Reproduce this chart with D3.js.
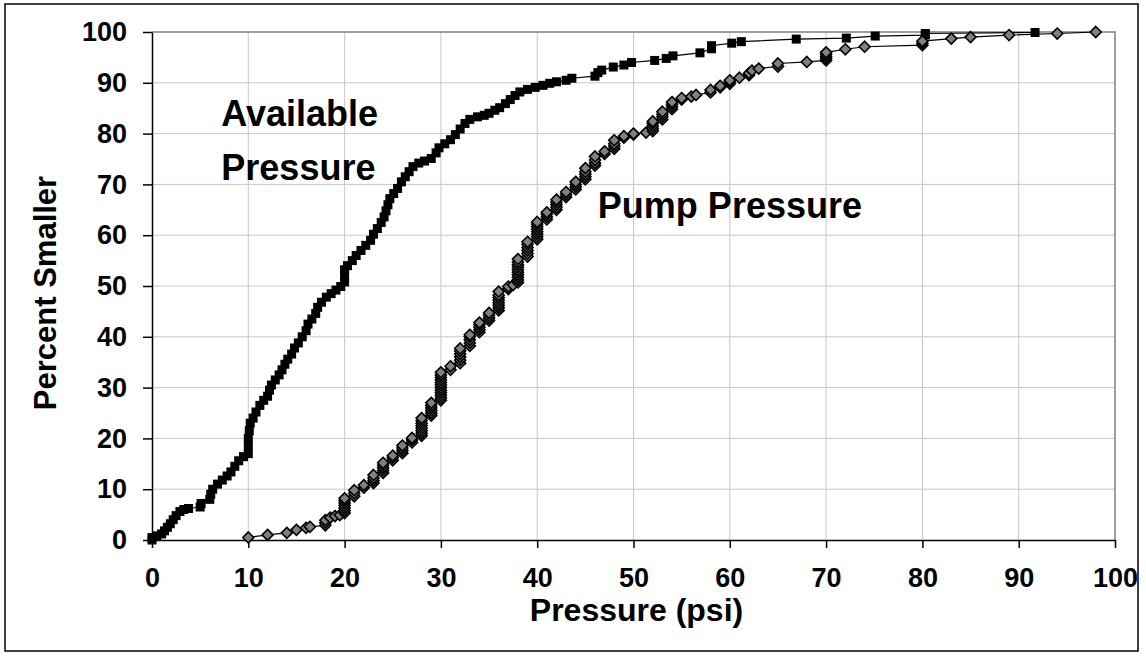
<!DOCTYPE html>
<html>
<head>
<meta charset="utf-8">
<script src="https://cdn.jsdelivr.net/npm/d3@7"></script>
<style>
  html, body { margin: 0; padding: 0; background: #ffffff; }
  svg { display: block; }
</style>
</head>
<body>
<svg id="chart" width="1146" height="660"></svg>
<script>
// ---------- DATA ----------
const xTicks = [0, 10, 20, 30, 40, 50, 60, 70, 80, 90, 100];
const yTicks = [0, 10, 20, 30, 40, 50, 60, 70, 80, 90, 100];

// Available Pressure (psi, percent smaller)
const availablePressure = [
  [0,0],[0,0.5],[0.5,0.8],[1,1.2],[1.3,1.8],[1.6,2.5],[1.9,3.2],[2.2,4],[2.5,4.8],[2.9,5.6],
  [3.3,6],[3.8,6.2],[5,6.5],[5.1,7.2],[6,8],[6.1,9],[6.3,10],[6.8,11],[7.3,11.8],[7.8,12.6],
  [8.2,13.4],[8.6,14.5],[9,15.6],[9.5,16.4],[10,17],[10,18.5],[10,20],[10.1,21.5],[10.2,23],[10.5,24],
  [10.8,25.2],[11.2,26.5],[11.6,27.5],[12,28.3],[12.2,29.5],[12.4,30.5],[12.8,31.5],[13.2,32.5],[13.5,33.5],[13.8,34.6],
  [14.1,35.6],[14.5,36.6],[14.8,37.8],[15.2,38.8],[15.6,40],[16,41.2],[16.2,42.5],[16.6,43.5],[17,44.6],[17.2,45.8],
  [17.6,46.8],[18.1,47.8],[18.6,48.5],[19.1,49.2],[19.6,49.9],[20,50.8],[20,52],[20,53.2],[20.3,54],[20.8,55],
  [21.2,56],[21.7,57],[22.2,58],[22.7,59],[23,60.2],[23.4,61.3],[23.8,62.5],[24.1,63.6],[24.3,64.8],[24.5,66],
  [24.7,67.2],[25.1,68.2],[25.5,69.2],[25.9,70.5],[26.3,71.5],[26.7,72.5],[27.1,73.5],[27.7,74.2],[28.3,74.6],[29,75.1],
  [29.5,76.2],[29.8,77.2],[30.4,78],[31,78.8],[31.5,79.8],[32,80.9],[32.5,82],[33,82.8],[33.8,83.3],[34.5,83.6],
  [35,84],[35.6,84.6],[36.1,85.1],[36.7,85.9],[37.2,86.7],[37.7,87.5],[38.2,88.2],[39,88.7],[39.8,89.1],[40.6,89.5],
  [41.3,89.9],[42,90.2],[43,90.5],[43.6,90.9],[46,91.3],[46.3,92],[46.7,92.5],[47.9,93.1],[49,93.5],[49.8,94],
  [52.2,94.4],[53.4,94.8],[54.1,95.3],[56.9,95.9],[58.1,96.7],[58.1,97.3],[60.2,97.8],[61.2,98.1],[66.9,98.6],[72.1,98.8],
  [75.1,99.2],[80.3,99.4],[80.3,99.7],[91.7,99.9]
];

// Pump Pressure (psi, percent smaller)
const pumpPressure = [
  [10,0.5],[12,1.0],[14,1.4],[15,2.0],[16,2.4],[16.4,2.6],[18,2.9],[18,3.4],[18,3.9],[18.5,4.4],[19,4.7],[19.5,4.9],
  [20,5.3],[20,5.8],[20,6.3],[20,6.8],[20,7.3],[20,7.8],[20,8.2],
  [21,8.6],[21,9.2],[21,9.8],[22,10.3],[22,10.8],
  [23,11.2],[23,11.7],[23,12.2],[23,12.8],
  [24,13.2],[24,13.7],[24,14.2],[24,14.7],[24,15.2],
  [25,15.7],[25,16.2],[25,16.6],
  [26,17.1],[26,17.6],[26,18.1],[26,18.6],
  [27,19.2],[27,19.7],[27,20.1],
  [28,20.5],[28,21],[28,21.5],[28,22],[28,22.5],[28,23],[28,23.5],[28,24],
  [29,24.5],[29,25],[29,25.5],[29,26],[29,26.5],[29,27],
  [30,27.5],[30,28],[30,28.5],[30,29],[30,29.5],[30,30],[30,30.5],[30,31],[30,31.5],[30,32],[30,32.5],[30,33],
  [31,33.5],[31,34.2],
  [32,34.8],[32,35.4],[32,36],[32,36.6],[32,37.2],[32,37.7],
  [33,38.2],[33,38.8],[33,39.4],[33,40],[33,40.4],
  [34,40.9],[34,41.4],[34,41.9],[34,42.4],[34,42.8],
  [35,43.2],[35,43.7],[35,44.2],[35,44.7],
  [36,45.2],[36,45.7],[36,46.2],[36,46.7],[36,47.2],[36,47.7],[36,48.2],[36,48.9],
  [37,49.4],[37,49.9],[37.5,50.2],
  [38,50.7],[38,51.2],[38,51.7],[38,52.2],[38,52.7],[38,53.2],[38,53.7],[38,54.2],[38,54.7],[38,55.3],
  [39,55.8],[39,56.4],[39,57],[39,57.6],[39,58.2],[39,58.7],
  [40,59.2],[40,59.7],[40,60.2],[40,60.7],[40,61.2],[40,61.7],[40,62.2],[40,62.6],
  [41,63.1],[41,63.6],[41,64.1],[41,64.5],
  [42,65],[42,65.5],[42,66],[42,66.5],[42,67],
  [43,67.5],[43,68],[43,68.5],
  [44,69],[44,69.5],[44,70],[44,70.5],
  [45,71],[45,71.5],[45,72],[45,72.5],[45,73.2],
  [46,73.7],[46,74.2],[46,74.8],[46,75.5],
  [47,76],[47,76.5],
  [48,77],[48,77.5],[48,78],[48,78.7],
  [49,79.2],[49,79.5],[50,79.8],[50,80],[51.3,80.2],
  [52,80.5],[52,81],[52,81.5],[52,82],[52,82.4],
  [53,82.8],[53,83.3],[53,83.8],[53,84.3],
  [54,84.8],[54,85.3],[54,85.8],[54,86.2],
  [55,86.7],[55,87],[56,87.3],[56.5,87.6],
  [58,88.1],[58,88.6],[59,89.1],[59,89.4],
  [60,89.8],[60,90.2],[60,90.5],[61,91],[62,91.5],[62,91.9],[62.3,92.4],[63,92.8],
  [65,93.2],[65,93.8],[68,94.1],
  [70,94.4],[70,94.8],[70,95.2],[70,95.6],[70,96],
  [72,96.6],[74,97.1],[80,97.4],[80,97.8],[80,98.2],[83,98.7],[85,99],[89,99.4],[94,99.7],[98,100]
];

const seriesLabels = [
  { lines: ["Available", "Pressure"], x: 7.2, y: 81.4 },
  { lines: ["Pump Pressure"], x: 46.3, y: 63.3 }
];
const xTitle = "Pressure (psi)";
const yTitle = "Percent Smaller";

// ---------- DRAW ----------
(function () {
const svg = d3.select("#chart");
const W = 1146, H = 660;
const pLeft = 152, pRight = 1115, pTop = 32, pBottom = 540;
const font = "Arial, 'Liberation Sans', Helvetica, sans-serif";

const x = d3.scaleLinear().domain([0, 100]).range([pLeft, pRight]);
const y = d3.scaleLinear().domain([0, 100]).range([pBottom, pTop]);

svg.append("rect").attr("width", W).attr("height", H).attr("fill", "#fff");
svg.append("rect").attr("x", 5).attr("y", 4).attr("width", 1133).attr("height", 647)
  .attr("fill", "none").attr("stroke", "#000").attr("stroke-width", 1.5);

const grid = svg.append("g");
grid.selectAll("line.v").data(xTicks.filter(d => d > 0 && d < 100)).join("line")
  .attr("x1", d => x(d)).attr("x2", d => x(d)).attr("y1", pTop).attr("y2", pBottom)
  .attr("stroke", "#c8c8c8").attr("stroke-width", 1);
grid.selectAll("line.h").data(yTicks.filter(d => d > 0 && d < 100)).join("line")
  .attr("x1", pLeft).attr("x2", pRight).attr("y1", d => y(d)).attr("y2", d => y(d))
  .attr("stroke", "#c8c8c8").attr("stroke-width", 1);

svg.append("path")
  .attr("d", `M${pLeft},${pTop}H${pRight}V${pBottom}`)
  .attr("fill", "none").attr("stroke", "#808080").attr("stroke-width", 1.5);

const xAxis = svg.append("g").attr("transform", `translate(0,${pBottom})`)
  .call(d3.axisBottom(x).tickValues(xTicks).tickSize(8).tickPadding(20).tickSizeOuter(0));
const yAxis = svg.append("g").attr("transform", `translate(${pLeft},0)`)
  .call(d3.axisLeft(y).tickValues(yTicks).tickSize(9).tickPadding(16).tickSizeOuter(0));
[xAxis, yAxis].forEach(g => {
  g.select(".domain").attr("stroke", "#000").attr("stroke-width", 1.5);
  g.selectAll(".tick line").attr("stroke", "#000").attr("stroke-width", 1.5);
  g.selectAll(".tick text").attr("fill", "#000")
    .style("font-family", font).style("font-weight", "bold").style("font-size", "27px");
});

const line = d3.line().x(d => x(d[0])).y(d => y(d[1]));
svg.append("path").datum(availablePressure).attr("d", line)
  .attr("fill", "none").attr("stroke", "#000").attr("stroke-width", 1.2);
const sq = 9;
svg.append("g").selectAll("rect").data(availablePressure).join("rect")
  .attr("x", d => x(d[0]) - sq / 2).attr("y", d => y(d[1]) - sq / 2)
  .attr("width", sq).attr("height", sq).attr("fill", "#000");

svg.append("path").datum(pumpPressure).attr("d", line)
  .attr("fill", "none").attr("stroke", "#000").attr("stroke-width", 1.2);
const r = 5.5;
svg.append("g").selectAll("path").data(pumpPressure).join("path")
  .attr("d", d => {
    const cx = x(d[0]), cy = y(d[1]);
    return `M${cx},${cy - r}L${cx + r},${cy}L${cx},${cy + r}L${cx - r},${cy}Z`;
  })
  .attr("fill", "#808080").attr("stroke", "#000").attr("stroke-width", 1.6);

seriesLabels.forEach(l => {
  const t = svg.append("text").attr("x", x(l.x)).attr("y", y(l.y))
    .style("font-family", font).style("font-weight", "bold").style("font-size", "36px").attr("fill", "#000");
  l.lines.forEach((s, i) => t.append("tspan").attr("x", x(l.x)).attr("dy", i === 0 ? 0 : 54).text(s));
});

svg.append("text").attr("x", (pLeft + pRight) / 2 + 3).attr("y", 621).attr("text-anchor", "middle")
  .style("font-family", font).style("font-weight", "bold").style("font-size", "32px").text(xTitle);
svg.append("text").attr("transform", `translate(56,293) rotate(-90)`)
  .attr("text-anchor", "middle")
  .style("font-family", font).style("font-weight", "bold").style("font-size", "31px").text(yTitle);
})();
</script>
</body>
</html>
